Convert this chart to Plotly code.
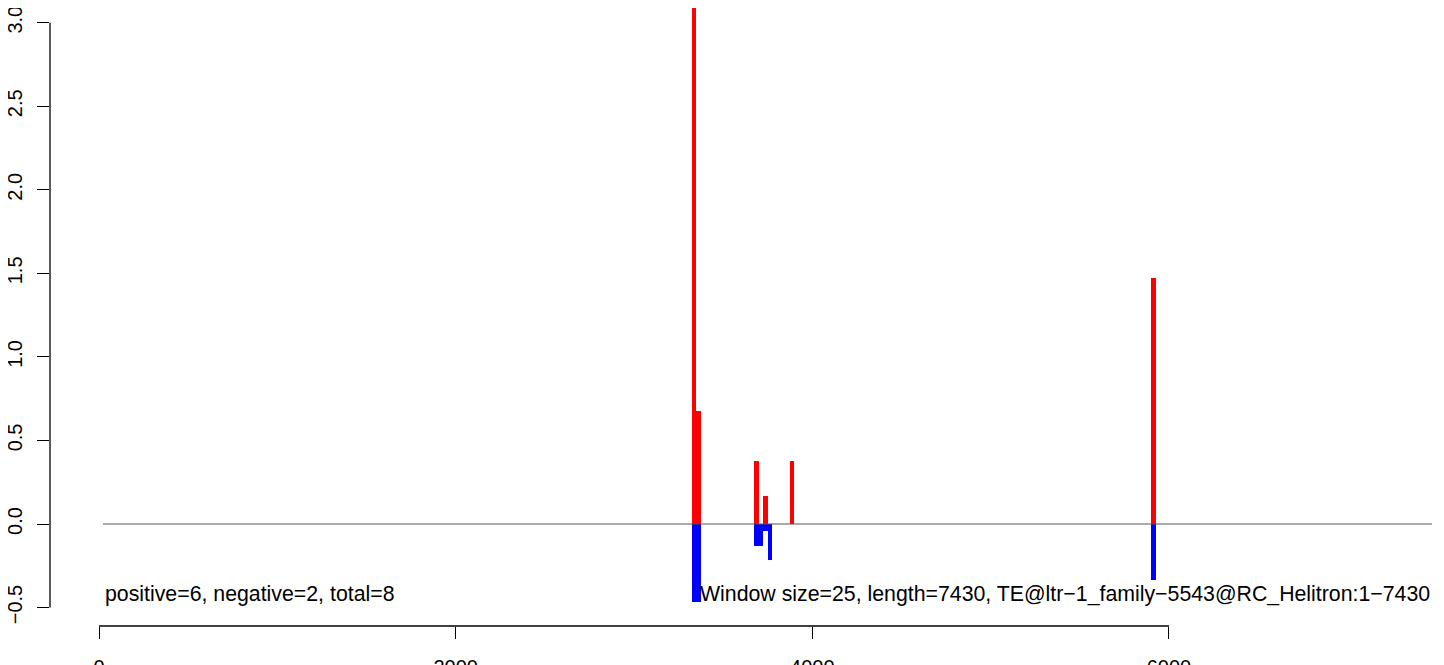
import plotly.graph_objects as go

# ---- data ----
WINDOW = 25
pos_starts = [3325, 3350, 3675, 3725, 3875, 5900]
pos_values = [3.11, 0.678, 0.377, 0.168, 0.377, 1.472]
neg_starts = [3325, 3350, 3675, 3700, 3725, 3750, 5900]
neg_values = [-0.465, -0.465, -0.13, -0.13, -0.042, -0.214, -0.335]

x_tickvals = [0, 2000, 4000, 6000]
x_ticktext = ["0", "2000", "4000", "6000"]
y_tickvals = [-0.5, 0.0, 0.5, 1.0, 1.5, 2.0, 2.5, 3.0]
y_ticktext = ["\u22120.5", "0.0", "0.5", "1.0", "1.5", "2.0", "2.5", "3.0"]

span_start, span_end = 22, 7475   # extent of the zero line / text anchors
text_y = -0.42
left_text = "positive=6, negative=2, total=8"
right_text = "Window size=25, length=7430, TE@ltr\u22121_family\u22125543@RC_Helitron:1\u22127430"

FONT = "Liberation Sans, Arial, Helvetica, sans-serif"

fig = go.Figure()
fig.add_trace(go.Bar(
    x=[s + WINDOW / 2 for s in pos_starts], y=pos_values, width=WINDOW,
    marker=dict(color="#FF0000", line=dict(width=0)), showlegend=False,
))
fig.add_trace(go.Bar(
    x=[s + WINDOW / 2 for s in neg_starts], y=neg_values, width=WINDOW,
    marker=dict(color="#0000FF", line=dict(width=0)), showlegend=False,
))

# zero line
fig.add_shape(type="line", xref="x", yref="y", x0=span_start, x1=span_end, y0=0, y1=0,
              line=dict(color="#555555", width=1), layer="above")
# R-style axis lines spanning first..last tick
fig.add_shape(type="line", xref="x", yref="paper", x0=x_tickvals[0], x1=x_tickvals[-1], y0=0, y1=0,
              line=dict(color="black", width=1.3))
fig.add_shape(type="line", xref="paper", yref="y", x0=0, x1=0, y0=y_tickvals[0], y1=y_tickvals[-1],
              line=dict(color="black", width=1.3))

fig.add_annotation(x=span_start, y=text_y, xref="x", yref="y", text=left_text, showarrow=False,
                   xanchor="left", yanchor="middle", font=dict(family=FONT, size=21.3, color="black"))
fig.add_annotation(x=span_end, y=text_y, xref="x", yref="y", text=right_text, showarrow=False,
                   xanchor="right", yanchor="middle", font=dict(family=FONT, size=21.3, color="black"))

fig.update_layout(
    width=1444, height=665,
    margin=dict(l=42, r=0, t=0, b=47, autoexpand=False),
    paper_bgcolor="white", plot_bgcolor="white",
    barmode="overlay", bargap=0,
    font=dict(family=FONT, size=20, color="black"),
    xaxis=dict(range=[-274.8, 7587.0], tickvals=x_tickvals, ticktext=x_ticktext,
               ticks="outside", ticklen=12, tickwidth=1.3, tickcolor="black", automargin=False,
               ticklabeloverflow="allow",
               showline=False, showgrid=False, zeroline=False, ticklabelstandoff=11),
    yaxis=dict(range=[-0.6104, 3.0880], tickvals=y_tickvals, ticktext=y_ticktext,
               tickangle=-90, ticks="outside", ticklen=12, tickwidth=1.3, tickcolor="black",
               automargin=False, ticklabeloverflow="allow",
               showline=False, showgrid=False, zeroline=False, ticklabelstandoff=7),
)

fig.write_html("out.html")
